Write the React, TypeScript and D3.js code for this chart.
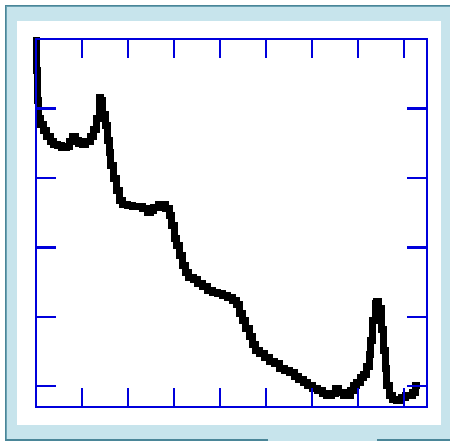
import React from "react";
import * as d3 from "d3";

const xValues = [
  0, 0.02, 0.04, 0.07, 0.13, 0.2, 0.26, 0.35, 0.43, 0.52, 0.61, 0.7, 0.76, 0.83, 0.89, 0.96,
  1.04, 1.13, 1.22, 1.28, 1.35, 1.39, 1.43, 1.48, 1.52, 1.57, 1.61, 1.65, 1.72, 1.78, 1.85, 1.93,
  2.04, 2.15, 2.26, 2.37, 2.46, 2.52, 2.61, 2.7, 2.78, 2.87, 2.93, 2.98, 3.02, 3.09, 3.15, 3.22,
  3.28, 3.37, 3.46, 3.57, 3.67, 3.78, 3.89, 4.0, 4.11, 4.22, 4.33, 4.39, 4.46, 4.52, 4.61, 4.67,
  4.74, 4.8, 4.91, 5.02, 5.13, 5.24, 5.35, 5.46, 5.57, 5.67, 5.76, 5.85, 5.96, 6.07, 6.17, 6.28,
  6.37, 6.46, 6.54, 6.63, 6.72, 6.8, 6.87, 6.93, 7.0, 7.09, 7.15, 7.22, 7.26, 7.3, 7.35, 7.39,
  7.43, 7.48, 7.52, 7.57, 7.61, 7.65, 7.72, 7.8, 7.89, 7.98, 8.07, 8.15, 8.22, 8.28,
];

const yValues = [
  4.98, 4.55, 4.12, 3.86, 3.77, 3.68, 3.6, 3.53, 3.48, 3.47, 3.44, 3.45, 3.53, 3.6, 3.54, 3.5,
  3.48, 3.53, 3.6, 3.7, 3.86, 4.16, 4.12, 3.91, 3.76, 3.54, 3.37, 3.18, 2.99, 2.82, 2.68, 2.62,
  2.6, 2.59, 2.59, 2.56, 2.5, 2.53, 2.58, 2.62, 2.62, 2.56, 2.46, 2.32, 2.13, 2.03, 1.88, 1.74,
  1.64, 1.57, 1.53, 1.48, 1.44, 1.38, 1.35, 1.34, 1.31, 1.28, 1.24, 1.17, 1.04, 0.94, 0.83, 0.72,
  0.6, 0.52, 0.47, 0.42, 0.36, 0.32, 0.26, 0.23, 0.19, 0.14, 0.1, 0.06, 0.01, -0.03, -0.06, -0.1,
  -0.14, -0.1, -0.04, -0.09, -0.13, -0.13, -0.06, 0.01, 0.06, 0.12, 0.17, 0.29, 0.45, 0.66, 0.95, 1.19,
  1.22, 1.12, 0.81, 0.52, 0.26, 0.01, -0.13, -0.19, -0.2, -0.17, -0.14, -0.14, -0.09, 0.01,
];

const xTickValues = [1, 2, 3, 4, 5, 6, 7, 8];
const yTickValues = [0, 1, 2, 3, 4];

const W = 450;
const H = 441;
const plot = { left: 36, right: 427, top: 39, bottom: 407 };
const AXIS = "#0000dc";
const TICK = 19;

export default function App() {
  const x = d3.scaleLinear().domain([0, 8.5]).range([plot.left, plot.right]);
  const y = d3.scaleLinear().domain([-0.3, 5]).range([plot.bottom, plot.top]);

  const data = xValues.map((v, i) => [v, yValues[i]] as [number, number]);
  const line = d3
    .line<[number, number]>()
    .x((d) => x(d[0]))
    .y((d) => y(d[1]))
    .curve(d3.curveStep);

  return (
    <svg
      width={W}
      height={H}
      style={{ position: "absolute", left: 0, top: 0, display: "block" }}
    >
      <rect x={0} y={0} width={W} height={H} fill="#ffffff" />
      {/* frame */}
      <rect x={5} y={5} width={W - 5} height={436} fill="#c7e4ec" />
      <rect x={5} y={5} width={W - 5} height={1} fill="#4a8698" />
      <rect x={6} y={6} width={W - 6} height={1} fill="#6ba2b3" />
      <rect x={5} y={5} width={1} height={436} fill="#4a8698" />
      <rect x={6} y={6} width={1} height={435} fill="#6ba2b3" />
      <rect x={5} y={439} width={263} height={2} fill="#4a8698" />
      <rect x={377} y={439} width={W - 377} height={2} fill="#4a8698" />
      <rect x={17} y={21} width={424} height={404} fill="#ffffff" />

      {/* data line */}
      <path
        d={line(data) ?? ""}
        fill="none"
        stroke="#000"
        strokeWidth={7}
        strokeLinejoin="miter"
        strokeLinecap="square"
        shapeRendering="crispEdges"
      />

      {/* axes box */}
      <g stroke={AXIS} strokeWidth={2.4} shapeRendering="crispEdges">
        <rect
          x={plot.left}
          y={plot.top}
          width={plot.right - plot.left}
          height={plot.bottom - plot.top}
          fill="none"
        />
        {xTickValues.map((t) => (
          <g key={"x" + t}>
            <line x1={x(t)} x2={x(t)} y1={plot.top} y2={plot.top + TICK} />
            <line x1={x(t)} x2={x(t)} y1={plot.bottom} y2={plot.bottom - TICK} />
          </g>
        ))}
        {yTickValues.map((t) => (
          <g key={"y" + t}>
            <line x1={plot.left} x2={plot.left + 20} y1={y(t)} y2={y(t)} />
            <line x1={plot.right} x2={plot.right - 20} y1={y(t)} y2={y(t)} />
          </g>
        ))}
      </g>
    </svg>
  );
}
